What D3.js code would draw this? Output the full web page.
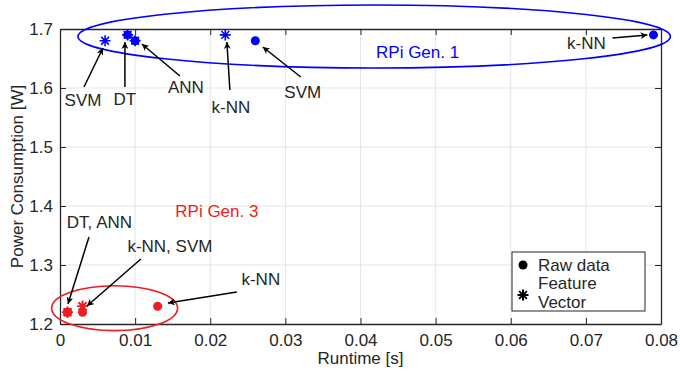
<!DOCTYPE html>
<html><head><meta charset="utf-8">
<script src="https://cdn.jsdelivr.net/npm/d3@7"></script>
<style>
html,body{margin:0;padding:0;background:#fff;}
svg{display:block;font-family:"Liberation Sans",Arial,Helvetica,sans-serif;}
</style></head>
<body>
<svg id="chart" width="680" height="375"></svg>
<script>
// ---- data ----
const xTicks = [0, 0.01, 0.02, 0.03, 0.04, 0.05, 0.06, 0.07, 0.08];
const yTicks = [1.2, 1.3, 1.4, 1.5, 1.6, 1.7];
const xTickLabels = ["0", "0.01", "0.02", "0.03", "0.04", "0.05", "0.06", "0.07", "0.08"];
const yTickLabels = ["1.2", "1.3", "1.4", "1.5", "1.6", "1.7"];

// RPi Gen. 1 (blue)
const gen1Raw = [
  {alg: "DT", runtime: 0.009, power: 1.69},
  {alg: "ANN", runtime: 0.010, power: 1.68},
  {alg: "SVM", runtime: 0.026, power: 1.68},
  {alg: "k-NN", runtime: 0.079, power: 1.69}
];
const gen1Feature = [
  {alg: "SVM", runtime: 0.006, power: 1.68},
  {alg: "DT", runtime: 0.009, power: 1.69},
  {alg: "ANN", runtime: 0.010, power: 1.68},
  {alg: "k-NN", runtime: 0.022, power: 1.69}
];
// RPi Gen. 3 (red)
const gen3Raw = [
  {alg: "DT", runtime: 0.001, power: 1.22},
  {alg: "ANN", runtime: 0.001, power: 1.22},
  {alg: "SVM", runtime: 0.003, power: 1.22},
  {alg: "k-NN", runtime: 0.013, power: 1.23}
];
const gen3Feature = [
  {alg: "DT", runtime: 0.001, power: 1.22},
  {alg: "ANN", runtime: 0.001, power: 1.22},
  {alg: "k-NN", runtime: 0.003, power: 1.23},
  {alg: "SVM", runtime: 0.003, power: 1.23}
];

// annotations (data units): label position, arrow start -> arrow end
const annotations = [
  {text: "SVM", lx: 0.00306, ly: 1.5695, x1: 0.00319, y1: 1.6017, x2: 0.00572, y2: 1.6678},
  {text: "DT", lx: 0.00864, ly: 1.5712, x1: 0.00864, y1: 1.6017, x2: 0.00864, y2: 1.6780},
  {text: "ANN", lx: 0.01676, ly: 1.5915, x1: 0.01596, y1: 1.6203, x2: 0.01090, y2: 1.6746},
  {text: "k-NN", lx: 0.02274, ly: 1.5576, x1: 0.02261, y1: 1.5966, x2: 0.02221, y2: 1.6780},
  {text: "SVM", lx: 0.03231, ly: 1.5831, x1: 0.03205, y1: 1.6186, x2: 0.02700, y2: 1.6695},
  {text: "k-NN", lx: 0.07008, ly: 1.6661, x1: 0.07354, y1: 1.6847, x2: 0.07819, y2: 1.6898},
  {text: "DT, ANN", lx: 0.00525, ly: 1.3627, x1: 0.00386, y1: 1.3475, x2: 0.00106, y2: 1.2339},
  {text: "k-NN, SVM", lx: 0.01463, ly: 1.3220, x1: 0.01077, y1: 1.3102, x2: 0.00359, y2: 1.2305},
  {text: "k-NN", lx: 0.02673, ly: 1.2661, x1: 0.02354, y1: 1.2542, x2: 0.01436, y2: 1.2356}
];
const groupLabels = [
  {text: "RPi Gen. 1", lx: 0.0476, ly: 1.6508, group: "gen1"},
  {text: "RPi Gen. 3", lx: 0.02088, ly: 1.3814, group: "gen3"}
];
// group ellipses (data units)
const groupEllipses = [
  {group: "gen1", cx: 0.04182, cy: 1.6873, rx: 0.03943, ry: 0.0534},
  {group: "gen3", cx: 0.00727, cy: 1.2268, rx: 0.00838, ry: 0.0381}
];
const legendItems = [
  {marker: "dot", lines: ["Raw data"]},
  {marker: "star", lines: ["Feature", "Vector"]}
];

// ---- styles ----
const colors = {gen1: "#0000ff", gen3: "#ee1d23"};
const axisColor = "#262626";
const gridColor = "#e5e5e5";
const fs = 17;

const svg = d3.select("#chart");
const m = {left: 60, right: 19, top: 29, bottom: 51};
const W = 680, H = 375;
const x = d3.scaleLinear().domain([0, 0.08]).range([m.left, W - m.right]);
const y = d3.scaleLinear().domain([1.2, 1.7]).range([H - m.bottom, m.top]);

// defs
svg.append("defs").append("marker")
  .attr("id", "arrow").attr("viewBox", "0 0 10 10")
  .attr("refX", 10).attr("refY", 5)
  .attr("markerWidth", 7).attr("markerHeight", 7)
  .attr("markerUnits", "userSpaceOnUse")
  .attr("orient", "auto")
  .append("path").attr("d", "M0,0 L10,5 L0,10 L3,5 Z").attr("fill", "#000");

// grid
const grid = svg.append("g");
grid.selectAll(".gx").data(xTicks.slice(1, -1)).enter().append("line")
  .attr("x1", d => x(d)).attr("x2", d => x(d))
  .attr("y1", y(1.2)).attr("y2", y(1.7))
  .attr("stroke", gridColor).attr("stroke-width", 1);
grid.selectAll(".gy").data(yTicks.slice(1, -1)).enter().append("line")
  .attr("y1", d => y(d)).attr("y2", d => y(d))
  .attr("x1", x(0)).attr("x2", x(0.08))
  .attr("stroke", gridColor).attr("stroke-width", 1);

// axes (ticks inward)
const tl = 6;
const xAxisB = d3.axisBottom(x).tickValues(xTicks).tickFormat((d, i) => xTickLabels[i]).tickSizeInner(-tl).tickSizeOuter(0).tickPadding(10);
const xAxisT = d3.axisTop(x).tickValues(xTicks).tickFormat("").tickSizeInner(-tl).tickSizeOuter(0);
const yAxisL = d3.axisLeft(y).tickValues(yTicks).tickFormat((d, i) => yTickLabels[i]).tickSizeInner(-tl).tickSizeOuter(0).tickPadding(7);
const yAxisR = d3.axisRight(y).tickValues(yTicks).tickFormat("").tickSizeInner(-tl).tickSizeOuter(0);

function styleAxis(g) {
  g.select(".domain").attr("stroke", axisColor).attr("stroke-width", 1.3);
  g.selectAll(".tick line").attr("stroke", axisColor).attr("stroke-width", 1);
  g.selectAll(".tick text").attr("fill", axisColor).style("font-size", fs + "px")
    .style("font-family", "'Liberation Sans',Arial,sans-serif");
}
svg.append("g").attr("transform", `translate(0,${y(1.2)})`).call(xAxisB).call(styleAxis);
svg.append("g").attr("transform", `translate(0,${y(1.7)})`).call(xAxisT).call(styleAxis);
svg.append("g").attr("transform", `translate(${x(0)},0)`).call(yAxisL).call(styleAxis);
svg.append("g").attr("transform", `translate(${x(0.08)},0)`).call(yAxisR).call(styleAxis);

// axis titles
svg.append("text").attr("x", (x(0) + x(0.08)) / 2).attr("y", 364)
  .attr("text-anchor", "middle").attr("fill", axisColor).style("font-size", fs + "px")
  .text("Runtime [s]");
svg.append("text").attr("transform", `translate(23,${(y(1.2) + y(1.7)) / 2}) rotate(-90)`)
  .attr("text-anchor", "middle").attr("fill", axisColor).style("font-size", fs + "px")
  .text("Power Consumption [W]");

// markers
const starPath = (r) => {
  const a = r * Math.SQRT1_2;
  return `M${-r},0L${r},0M0,${-r}L0,${r}M${-a},${-a}L${a},${a}M${-a},${a}L${a},${-a}`;
};
const layer = svg.append("g");
function dots(data, color) {
  layer.selectAll(null).data(data).enter().append("circle")
    .attr("cx", d => x(d.runtime)).attr("cy", d => y(d.power))
    .attr("r", 4.5).attr("fill", color);
}
function stars(data, color) {
  layer.selectAll(null).data(data).enter().append("path")
    .attr("transform", d => `translate(${x(d.runtime)},${y(d.power)})`)
    .attr("d", starPath(5.5)).attr("stroke", color).attr("stroke-width", 1.6).attr("fill", "none");
}
dots(gen1Raw, colors.gen1);
stars(gen1Feature, colors.gen1);
dots(gen3Raw, colors.gen3);
stars(gen3Feature, colors.gen3);

// ellipses
svg.append("g").selectAll("ellipse").data(groupEllipses).enter().append("ellipse")
  .attr("cx", d => x(d.cx)).attr("cy", d => y(d.cy))
  .attr("rx", d => x(d.cx + d.rx) - x(d.cx)).attr("ry", d => y(d.cy - d.ry) - y(d.cy))
  .attr("fill", "none").attr("stroke", d => colors[d.group]).attr("stroke-width", 1.6);

// annotations
const ann = svg.append("g");
ann.selectAll("line").data(annotations).enter().append("line")
  .attr("x1", d => x(d.x1)).attr("y1", d => y(d.y1))
  .attr("x2", d => x(d.x2)).attr("y2", d => y(d.y2))
  .attr("stroke", "#000").attr("stroke-width", 1.5).attr("marker-end", "url(#arrow)");
ann.selectAll("text").data(annotations).enter().append("text")
  .attr("x", d => x(d.lx)).attr("y", d => y(d.ly))
  .attr("text-anchor", "middle").attr("fill", axisColor).style("font-size", fs + "px")
  .text(d => d.text);
svg.append("g").selectAll("text").data(groupLabels).enter().append("text")
  .attr("x", d => x(d.lx)).attr("y", d => y(d.ly))
  .attr("text-anchor", "middle").attr("fill", d => colors[d.group]).style("font-size", fs + "px")
  .text(d => d.text);

// legend
const lg = svg.append("g").attr("transform", "translate(512,252)");
lg.append("rect").attr("width", 133).attr("height", 59).attr("fill", "#fff")
  .attr("stroke", axisColor).attr("stroke-width", 1);
lg.append("circle").attr("cx", 11).attr("cy", 13).attr("r", 4.5).attr("fill", "#000");
lg.append("path").attr("transform", "translate(11,43)").attr("d", starPath(5.5))
  .attr("stroke", "#000").attr("stroke-width", 2).attr("fill", "none");
const lgText = lg.append("text").attr("fill", axisColor).style("font-size", fs + "px");
lgText.append("tspan").attr("x", 26).attr("y", 19).text(legendItems[0].lines[0]);
lgText.append("tspan").attr("x", 26).attr("y", 37).text(legendItems[1].lines[0]);
lgText.append("tspan").attr("x", 26).attr("y", 56).text(legendItems[1].lines[1]);
</script>
</body></html>
